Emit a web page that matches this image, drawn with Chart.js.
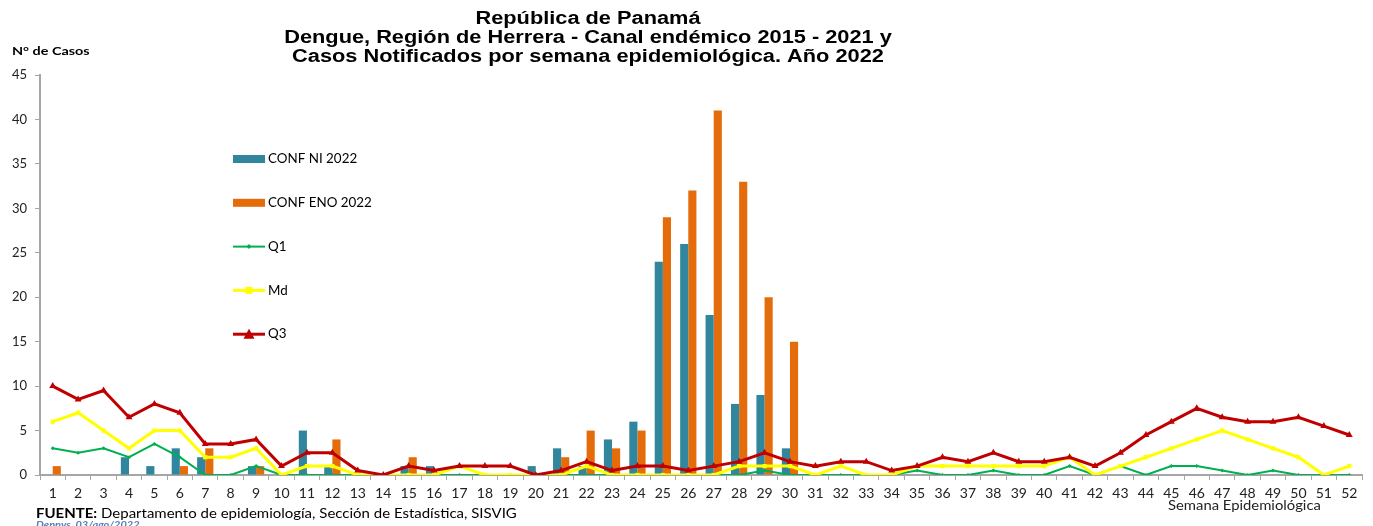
<!DOCTYPE html>
<html>
<head>
<meta charset="utf-8">
<script src="https://cdn.jsdelivr.net/npm/chart.js@4.4.0/dist/chart.umd.min.js"></script>
<style>
  html, body { margin: 0; padding: 0; background: #fff; }
  #wrap { width: 1373px; height: 526px; position: relative; }
</style>
</head>
<body>
<div id="wrap"><canvas id="chart"></canvas></div>
<script>
const weeks = ["1","2","3","4","5","6","7","8","9","10","11","12","13","14","15","16","17","18","19","20",
  "21","22","23","24","25","26","27","28","29","30","31","32","33","34","35","36","37","38","39","40",
  "41","42","43","44","45","46","47","48","49","50","51","52"];

// casos 2022 (semanas 1-30)
const confNI = [0,0,0,2,1,3,2,0,1,0,5,1,0,0,1,1,0,0,0,1,3,1,4,6,24,26,18,8,9,3];
const confENO = [1,0,0,0,0,1,3,0,1,0,0,4,0,0,2,0,0,0,0,0,2,5,3,5,29,32,41,33,20,15];

// canal endemico 2015-2021
const q1 = [3,2.5,3,2,3.5,2,0,0,1,0,0,0,0,0,0,0,0,0,0,0,0,0,0,0,0,0,0,0,0.5,0,
  0,0,0,0,0.5,0,0,0.5,0,0,1,0,1,0,1,1,0.5,0,0.5,0,0,0];
const md = [6,7,5,3,5,5,2,2,3,0,1,1,0,0,0,0,1,0,0,0,0,1,0,0,0,0,0,1,1,1,
  0,1,0,0,1,1,1,1,1,1,2,0,1,2,3,4,5,4,3,2,0,1];
const q3 = [10,8.5,9.5,6.5,8,7,3.5,3.5,4,1,2.5,2.5,0.5,0,1,0.5,1,1,1,0,0.5,1.5,0.5,1,1,0.5,1,1.5,2.5,1.5,
  1,1.5,1.5,0.5,1,2,1.5,2.5,1.5,1.5,2,1,2.5,4.5,6,7.5,6.5,6,6,6.5,5.5,4.5];

const yTicks = [0,5,10,15,20,25,30,35,40,45];

const titleLines = [
  "República de Panamá",
  "Dengue, Región de Herrera - Canal endémico 2015 - 2021 y",
  "Casos Notificados por semana epidemiológica. Año 2022"
];

const TEAL = "#31859C";
const ORANGE = "#E46C0A";
const GREEN = "#00B050";
const YELLOW = "#FFFF00";
const RED = "#C00000";
const AXIS = "#a6a6a6";

// texto estirado a lo ancho, como en la imagen original
function wideText(ctx, txt, x, y, sx) {
  ctx.save();
  ctx.translate(x, y);
  ctx.scale(sx, 1);
  ctx.fillText(txt, 0, 0);
  const w = ctx.measureText(txt).width * sx;
  ctx.restore();
  return w;
}

const textPlugin = {
  id: "texts",
  afterDraw(chart) {
    const ctx = chart.ctx;
    ctx.save();
    ctx.fillStyle = "#000";
    ctx.textAlign = "center";
    ctx.textBaseline = "middle";
    ctx.font = "bold 18px 'Liberation Sans', Arial, sans-serif";
    titleLines.forEach((t, i) => wideText(ctx, t, 588, 19 + i * 19, 1.21));

    ctx.textAlign = "left";
    ctx.font = "bold 12px Lato, sans-serif";
    wideText(ctx, "N° de Casos", 12, 51, 1.2);

    ctx.font = "13px Lato, sans-serif";
    ctx.fillStyle = "#222";
    wideText(ctx, "Semana Epidemiológica", 1168, 506, 1.14);

    ctx.fillStyle = "#000";
    ctx.font = "bold 14px Lato, sans-serif";
    const w = wideText(ctx, "FUENTE:", 36, 513, 1.07);
    ctx.font = "14px Lato, sans-serif";
    wideText(ctx, " Departamento de epidemiología, Sección de Estadística, SISVIG", 36 + w, 513, 1.07);

    ctx.fillStyle = "#4F81BD";
    ctx.font = "italic bold 10px Lato, sans-serif";
    wideText(ctx, "Dennys  03/ago/2022", 36, 525, 1.1);

    // leyenda
    const items = chart.data.datasets;
    items.forEach((ds, i) => {
      const y = 159 + i * 43.8;
      if (ds.type === "bar") {
        ctx.fillStyle = ds.backgroundColor;
        ctx.fillRect(233, y - 4, 32, 8);
      } else {
        ctx.strokeStyle = ds.borderColor;
        ctx.lineWidth = ds.borderWidth;
        ctx.beginPath();
        ctx.moveTo(233, y);
        ctx.lineTo(265, y);
        ctx.stroke();
        ctx.fillStyle = ds.borderColor;
        const r = ds.pointRadius + 0.5;
        ctx.beginPath();
        if (ds.pointStyle === "triangle") {
          ctx.moveTo(249, y - r - 1);
          ctx.lineTo(249 + r + 1, y + r);
          ctx.lineTo(249 - r - 1, y + r);
        } else if (ds.pointStyle === "rect") {
          ctx.rect(249 - r, y - r, 2 * r, 2 * r);
        } else {
          ctx.moveTo(249, y - r);
          ctx.lineTo(249 + r, y);
          ctx.lineTo(249, y + r);
          ctx.lineTo(249 - r, y);
        }
        ctx.fill();
      }
      ctx.fillStyle = "#000";
      ctx.font = "13px Lato, sans-serif";
      ctx.textAlign = "left";
      wideText(ctx, ds.label, 268, y, 1.03);
    });
    ctx.restore();
  }
};

new Chart(document.getElementById("chart"), {
  data: {
    labels: weeks,
    datasets: [
      { type: "bar", label: "CONF NI 2022", data: confNI, backgroundColor: TEAL, order: 3,
        categoryPercentage: 0.64, barPercentage: 1 },
      { type: "bar", label: "CONF ENO 2022", data: confENO, backgroundColor: ORANGE, order: 3,
        categoryPercentage: 0.64, barPercentage: 1 },
      { type: "line", label: "Q1", data: q1, borderColor: GREEN, backgroundColor: GREEN, borderWidth: 2,
        pointStyle: "rectRot", pointRadius: 2, pointBorderWidth: 0, tension: 0, order: 2 },
      { type: "line", label: "Md", data: md, borderColor: YELLOW, backgroundColor: YELLOW, borderWidth: 3,
        pointStyle: "rect", pointRadius: 3, pointBorderWidth: 0, tension: 0, order: 1 },
      { type: "line", label: "Q3", data: q3, borderColor: RED, backgroundColor: RED, borderWidth: 3,
        pointStyle: "triangle", pointRadius: 4, pointBorderWidth: 0, tension: 0, order: 0 }
    ]
  },
  options: {
    responsive: true,
    maintainAspectRatio: false,
    animation: false,
    layout: { padding: { top: 75, right: 11, left: 0, bottom: 0 } },
    plugins: { legend: { display: false }, tooltip: { enabled: false } },
    scales: {
      x: {
        offset: true,
        grid: { drawOnChartArea: false, offset: true, color: AXIS, tickLength: 5 },
        border: { color: AXIS, width: 2 },
        ticks: { color: "#222", font: { family: "Lato", size: 14 }, padding: 5, maxRotation: 0, autoSkip: false },
        afterFit(scale) { scale.height = 51; }
      },
      y: {
        min: 0, max: 45,
        afterBuildTicks(scale) { scale.ticks = yTicks.map(v => ({ value: v })); },
        grid: { drawOnChartArea: false, color: AXIS, tickLength: 5 },
        border: { color: AXIS, width: 2 },
        ticks: { color: "#222", font: { family: "Lato", size: 13 }, padding: 8 },
        afterFit(scale) { scale.width = 40; }
      }
    }
  },
  plugins: [textPlugin]
});
</script>
</body>
</html>
